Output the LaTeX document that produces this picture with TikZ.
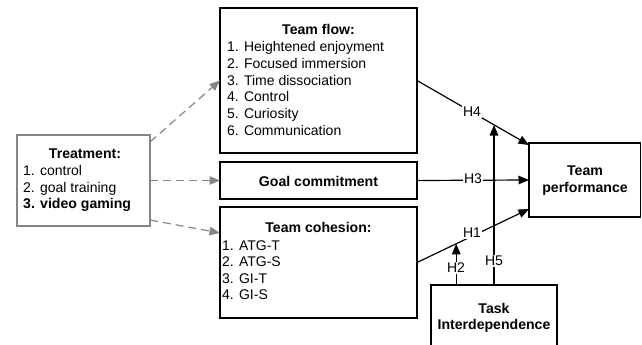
\documentclass[tikz,border=0pt]{standalone}
\usepackage{fontspec}
\setmainfont{Liberation Sans}
\usetikzlibrary{arrows.meta}
\newcommand\fs{\fontsize{14}{16.7}\selectfont}
\newcommand\bfs{\fontsize{14.1}{16.7}\selectfont\bfseries}
\definecolor{tgray}{HTML}{858585}
\tikzset{
  box/.style={draw, line width=1.3pt, rectangle, inner sep=0pt, outer sep=0pt, anchor=north west},
  gbox/.style={box, draw=tgray},
  txt/.style={inner sep=0pt, font=\fs},
  bt/.style={inner sep=0pt, font=\bfs},
  lab/.style={inner sep=1pt, fill=white, font=\fs},
  blk/.style={line width=1.2pt, -{Triangle[length=10.5pt,width=8.5pt]}},
  gdash/.style={line width=1.2pt, tgray, dash pattern=on 8pt off 5pt, -{Triangle[length=10.5pt,width=8.5pt]}}
}
\begin{document}
\begin{tikzpicture}[x=1pt,y=-1pt]
\useasboundingbox (0,0) rectangle (642,345);
\clip (0,0) rectangle (642,345);
\fill[white] (0,0) rectangle (642,345);
% boxes
\node[gbox, minimum width=133pt, minimum height=91pt] (tr) at (17,135) {};
\node[box, minimum width=197pt, minimum height=145pt] (tf) at (220,8) {};
\node[box, minimum width=197pt, minimum height=37pt] (gc) at (220,162) {};
\node[box, minimum width=197pt, minimum height=111pt] (tc) at (220,207) {};
\node[box, minimum width=111.5pt, minimum height=74pt] (tp) at (529,143) {};
\node[box, minimum width=126pt, minimum height=80pt] (ti) at (431,285) {};
% treatment text
\node[bt, anchor=base] (trt) at (85,158) {Treatment:};
\node[txt, anchor=base west] (tr1) at (23,175) {1. control};
\node[txt, anchor=base west] (tr2) at (23,192) {2. goal training};
\node[bt, anchor=base west] (tr3) at (23,208) {3. video gaming};
% team flow text
\node[bt, anchor=base] (tft) at (318.5,35) {Team flow:};
\node[txt, anchor=base west] (tf1) at (227,52) {1. Heightened enjoyment};
\node[txt, anchor=base west] (tf2) at (227,68.6) {2. Focused immersion};
\node[txt, anchor=base west] (tf3) at (227,85.2) {3. Time dissociation};
\node[txt, anchor=base west] (tf4) at (227,101.8) {4. Control};
\node[txt, anchor=base west] (tf5) at (227,118.4) {5. Curiosity};
\node[txt, anchor=base west] (tf6) at (227,135) {6. Communication};
% goal commitment
\node[bt, anchor=base] (gct) at (318.5,186) {Goal commitment};
% team cohesion
\node[bt, anchor=base] (tct) at (318.5,232) {Team cohesion:};
\node[txt, anchor=base west] (tc1) at (222,250) {1. ATG-T};
\node[txt, anchor=base west] (tc2) at (222,266.5) {2. ATG-S};
\node[txt, anchor=base west] (tc3) at (222,283) {3. GI-T};
\node[txt, anchor=base west] (tc4) at (222,299.5) {4. GI-S};
% team performance
\node[bt, anchor=base] (tpt1) at (585,175) {Team};
\node[bt, anchor=base] (tpt2) at (585,192) {performance};
% task interdependence
\node[bt, anchor=base] (tit1) at (494,313) {Task};
\node[bt, anchor=base] (tit2) at (494,329) {Interdependence};
% dashed treatment arrows
\draw[gdash] ([yshift=-7pt]tr.north east) -- (tf.west);
\draw[gdash] (tr.east) -- (gc.west);
\draw[gdash] ([yshift=6pt]tr.south east) -- ([yshift=-26pt]tc.north west);
% hypotheses
\draw[blk] (tf.east) -- coordinate[pos=0.69] (h4p) ([yshift=-2pt]tp.north west);
\draw[blk] (gc.east) -- (tp.west);
\draw[blk] (tc.east) -- coordinate[pos=0.35] (h1p) ([yshift=8pt]tp.south west);
\draw[blk] (ti.north) -- (ti.north |- h4p);
\draw[blk] (h1p |- ti.north) -- (h1p);
% labels
\node[lab] (l4) at (472,112) {H4};
\node[lab] (l3) at (473,179) {H3};
\node[lab] (l1) at (472,233) {H1};
\node[lab] (l2) at (456,268) {H2};
\node[lab] (l5) at (494,261) {H5};
\end{tikzpicture}
\end{document}
